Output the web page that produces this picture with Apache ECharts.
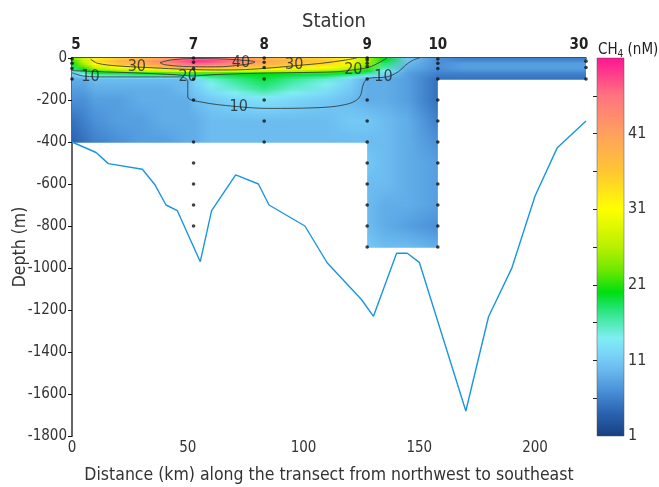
<!DOCTYPE html>
<html><head><meta charset="utf-8">
<script src="https://cdn.jsdelivr.net/npm/echarts@6/dist/echarts.min.js"></script>
<style>html,body{margin:0;padding:0;background:#fff}#c{width:659px;height:487px}</style>
</head><body><div id="c"></div>
<script>
// ---------- data ----------
const stationNames = ['5', '7', '8', '9', '10', '30'];
const stationKm = [0, 52.5, 83, 127.5, 158, 222];
const sampleDepths = [
  [-5, -25, -50, -100],
  [0, -20, -50, -100, -200, -400, -500, -600, -700, -800],
  [0, -20, -45, -100, -200, -300, -400],
  [0, -10, -25, -40, -100, -200, -300, -400, -500, -600, -700, -800, -900],
  [-5, -25, -50, -100, -200, -300, -400, -500, -600, -700, -800, -900],
  [-15, -45, -100]
];
const bathyKm = [0, 10.4, 15.7, 30.4, 35.9, 40.6, 45.5, 55.4, 60.3, 70.7, 80.5, 85.1, 100.6, 110.2, 125, 130.2, 140.2, 144.8, 150, 170.1, 179.9, 189.9, 200, 209.5, 222];
const bathyDepth = [-400, -450, -503, -530, -605, -700, -727, -970, -727, -557, -600, -700, -800, -975, -1150, -1230, -930, -930, -973, -1681, -1232, -1002, -657, -429, -300];

// CH4 field (nM) read at grid nodes
const fieldKm = [0, 5, 10, 20, 30, 40, 50, 53, 60, 70, 83, 95, 110, 120, 127.5, 135, 145, 158, 170, 190, 222];
const fieldDepths = [0, -10, -25, -50, -75, -100, -150, -200, -300, -400, -500, -600, -700, -800, -900];
const N = null;
const ch4_0    = [24, 27, 30, 33, 35, 38, 42, 43, 42, 40, 37, 35, 33, 30, 26, 20, 11, 7, 6, 6, 6];
const ch4_10   = [22, 28, 34, 38, 40, 44, 48, 50, 49, 46, 40, 38, 36, 32, 26, 20, 11, 7, 6, 6, 6];
const ch4_25   = [20, 26, 32, 37, 39, 43, 47, 48, 47, 44, 39, 37, 35, 31, 25, 18, 10, 7, 8, 8, 8];
const ch4_50   = [18, 21, 26, 30, 32, 35, 38, 38, 37, 36, 34, 32, 30, 27, 22, 16, 9, 7, 8, 8, 8];
const ch4_75   = [11, 15, 18, 19, 20, 20, 20, 20, 20, 20, 20, 20, 20, 19, 17, 12, 8, 6, 6, 6, 6];
const ch4_100  = [9, 9, 10, 10, 10, 10, 10, 12, 15, 17, 19, 17, 15, 12, 9, 9, 8, 5, 5, 5, 5];
const ch4_150  = [8, 8, 9, 9, 9, 9, 10, 11, 13, 15, 17, 15, 13, 11, 9, 9, 8, 5, N, N, N];
const ch4_200  = [7, 7, 8, 8, 9, 9, 9, 10, 11, 12, 13, 12, 11, 10, 9, 9, 8, 5, N, N, N];
const ch4_300  = [5, 6, 7, 8, 8, 9, 9, 9, 10, 10, 10, 10, 10, 11, 11, 10, 9, 6, N, N, N];
const ch4_400  = [4, 5, 6, 7, 8, 8, 9, 9, 10, 10, 10, 10, 10, 10, 10, 10, 9, 7, N, N, N];
const ch4_500  = [N, N, N, N, N, N, N, N, N, N, N, N, N, N, 11, 10, 9, 8, N, N, N];
const ch4_600  = [N, N, N, N, N, N, N, N, N, N, N, N, N, N, 10, 10, 9, 8, N, N, N];
const ch4_700  = [N, N, N, N, N, N, N, N, N, N, N, N, N, N, 10, 9, 9, 8, N, N, N];
const ch4_800  = [N, N, N, N, N, N, N, N, N, N, N, N, N, N, 10, 9, 8, 7, N, N, N];
const ch4_900  = [N, N, N, N, N, N, N, N, N, N, N, N, N, N, 11, 10, 10, 9, N, N, N];
const fieldValues = [ch4_0, ch4_10, ch4_25, ch4_50, ch4_75, ch4_100, ch4_150, ch4_200, ch4_300, ch4_400, ch4_500, ch4_600, ch4_700, ch4_800, ch4_900];

// contour lines (km, depth)
const contour10 = [[0, -70], [5, -86], [15, -90], [30, -90], [47, -90], [50, -110], [50, -185], [56, -210], [70, -230], [85, -240], [105, -237], [118, -222], [124, -190], [126, -120], [128, -97], [136, -90], [141, -65], [144, -35], [147, -12], [150, 0]];
const contour20 = [[0, -60], [15, -66], [30, -72], [45, -80], [52, -86], [60, -80], [75, -74], [95, -70], [115, -65], [121, -57], [128, -45], [133, -20], [136, 0]];
const contour30 = [[8, -5], [11, -25], [20, -38], [32, -45], [45, -52], [62, -57], [75, -55], [86, -47], [98, -35], [108, -25], [118, -10], [123, 0]];
const contour40 = [[38, -22], [43, -9], [52, -3], [63, -4], [73, -10], [79, -19], [74, -32], [62, -42], [48, -40], [40, -32], [38, -22]];
const contourLabels = [[8, -92, '10'], [72, -232, '10'], [134.5, -89, '10'], [50, -89, '20'], [121.5, -57, '20'], [28, -41, '30'], [96, -33, '30'], [73, -25, '40']];

// colour scale
const cbVals = [1, 4, 7, 10, 12, 14, 16, 18, 20, 23, 26, 31, 36, 41, 46, 51];
const cbCols = ['#173f80', '#2a62b0', '#4a90d8', '#6cbcf0', '#7ad6f8', '#80eef2', '#50eab4', '#20e470', '#00de10', '#70e800', '#b8f000', '#ffff00', '#ffc632', '#ffa05e', '#ff7480', '#ff1493'];
const cbLabels = [1, 11, 21, 31, 41];
const cbTicks = [6, 11, 16, 21, 26, 31, 36, 41, 46];

// ---------- helpers ----------
function hexToRgb(h) { return [parseInt(h.substr(1, 2), 16), parseInt(h.substr(3, 2), 16), parseInt(h.substr(5, 2), 16)]; }
function lerpHex(a, b, t) {
  const A = hexToRgb(a), B = hexToRgb(b);
  return 'rgb(' + A.map((v, k) => Math.round(v + (B[k] - v) * t)).join(',') + ')';
}
function valColor(v) {
  if (v <= cbVals[0]) return cbCols[0];
  for (let k = 1; k < cbVals.length; k++) {
    if (v <= cbVals[k]) return lerpHex(cbCols[k - 1], cbCols[k], (v - cbVals[k - 1]) / (cbVals[k] - cbVals[k - 1]));
  }
  return cbCols[cbCols.length - 1];
}

const FONT = "'Liberation Sans Narrow','DejaVu Sans Condensed','Liberation Sans',sans-serif";

const dots = [];
stationKm.forEach((x, i) => sampleDepths[i].forEach(d => dots.push([x, d])));

const bands = fieldDepths.slice(0, -1).map((d, i) => [i, d]);

function renderBand(params, api) {
  const i = params.dataIndex;
  const A = fieldValues[i], B = fieldValues[i + 1];
  const cols = [];
  for (let j = 0; j < fieldKm.length; j++) if (A[j] != null && B[j] != null) cols.push(j);
  if (cols.length < 2) return;
  const x0 = fieldKm[cols[0]], x1 = fieldKm[cols[cols.length - 1]];
  const pA = api.coord([x0, fieldDepths[i]]), pB = api.coord([x1, fieldDepths[i + 1]]);
  const h = pB[1] - pA[1];
  const n = Math.max(1, Math.round(h / 2));
  const children = [];
  for (let s = 0; s < n; s++) {
    const t = (s + 0.5) / n;
    const stops = cols.map(j => ({ offset: (fieldKm[j] - x0) / (x1 - x0), color: valColor(A[j] * (1 - t) + B[j] * t) }));
    children.push({
      type: 'rect',
      shape: { x: pA[0], y: pA[1] + h * s / n, width: pB[0] - pA[0], height: h / n + 0.7 },
      style: { fill: new echarts.graphic.LinearGradient(0, 0, 1, 0, stops) }
    });
  }
  return { type: 'group', children };
}

function renderColorbar(params, api) {
  const p0 = api.coord([0, cbVals[0]]), p1 = api.coord([1, cbVals[cbVals.length - 1]]);
  const stops = cbVals.map((v, k) => ({ offset: 1 - (v - cbVals[0]) / (cbVals[cbVals.length - 1] - cbVals[0]), color: cbCols[k] }));
  return {
    type: 'rect',
    shape: { x: p0[0], y: p1[1], width: p1[0] - p0[0], height: p0[1] - p1[1] },
    style: { fill: new echarts.graphic.LinearGradient(0, 0, 0, 1, stops), stroke: '#555', lineWidth: 0.5 }
  };
}

const contourStyle = { color: '#2b3b3b', width: 1, opacity: 0.85 };
function contourSeries(data) {
  return { type: 'line', xAxisIndex: 0, yAxisIndex: 0, data, symbol: 'none', smooth: 0.35, lineStyle: contourStyle, z: 4, silent: true };
}

const chart = echarts.init(document.getElementById('c'), null, { renderer: 'canvas' });
chart.setOption({
  animation: false,
  textStyle: { fontFamily: FONT },
  title: [
    { text: 'Station', left: 329, textAlign: 'center', top: 7, textStyle: { fontFamily: FONT, fontSize: 20, fontWeight: 'normal', color: '#333' } },
    {
      text: '{a|CH}{b|4}{a| (nM)}', left: 593, top: 36,
      textStyle: { fontWeight: 'normal', rich: { a: { fontFamily: FONT, fontSize: 15, fontWeight: 'normal', color: '#222' }, b: { fontFamily: FONT, fontSize: 10, fontWeight: 'normal', color: '#222', padding: [8, 0, 0, 0] } } }
    }
  ],
  grid: [
    { left: 72, top: 58, width: 514, height: 378, outerBoundsMode: 'none', containLabel: false },
    { left: 597, top: 58, width: 27, height: 378, outerBoundsMode: 'none', containLabel: false }
  ],
  xAxis: [
    {
      gridIndex: 0, type: 'value', min: 0, max: 222, position: 'bottom',
      name: 'Distance (km) along the transect from northwest to southeast', nameLocation: 'middle', nameGap: 30,
      nameTextStyle: { fontFamily: FONT, fontSize: 17.5, color: '#333' },
      axisLine: { lineStyle: { color: '#111', width: 1.5 } },
      axisTick: { customValues: [0, 50, 100, 150, 200], length: 4, lineStyle: { color: '#111' } },
      axisLabel: { customValues: [0, 50, 100, 150, 200], fontFamily: FONT, fontSize: 15, color: '#333', margin: 5, formatter: v => String(v) },
      splitLine: { show: false }
    },
    {
      gridIndex: 0, type: 'value', min: 0, max: 222, position: 'top',
      axisLine: { show: true, lineStyle: { color: '#555', width: 1 } },
      axisTick: { show: false },
      axisLabel: {
        customValues: stationKm, margin: 5, fontFamily: FONT, fontSize: 15, fontWeight: 'bold', color: '#222',
        formatter: v => {
          const i = stationKm.indexOf(v);
          const name = i >= 0 ? stationNames[i] : '';
          if (name === '30') return '{r|' + name + '}';
          if (name === '5') return '{l|' + name + '}';
          return name;
        },
        rich: {
          r: { fontFamily: FONT, fontSize: 15, fontWeight: 'bold', color: '#222', padding: [0, 14, 0, 0] },
          l: { fontFamily: FONT, fontSize: 15, fontWeight: 'bold', color: '#222', padding: [0, 0, 0, 8] }
        }
      },
      splitLine: { show: false }
    },
    { gridIndex: 1, type: 'value', min: 0, max: 1, show: false }
  ],
  yAxis: [
    {
      gridIndex: 0, type: 'value', min: -1800, max: 0, interval: 200,
      name: 'Depth (m)', nameLocation: 'middle', nameGap: 43, nameRotate: 90, nameMoveOverlap: false,
      nameTextStyle: { fontFamily: FONT, fontSize: 17.5, color: '#333' },
      axisLine: { show: true, lineStyle: { color: '#111', width: 1.5 } },
      axisTick: { show: true, length: 4, lineStyle: { color: '#111' } },
      axisLabel: { fontFamily: FONT, fontSize: 15, color: '#333', margin: 5, formatter: v => String(v) },
      splitLine: { show: false }
    },
    {
      gridIndex: 0, type: 'value', min: -1800, max: 0, position: 'right',
      axisLine: { show: true, lineStyle: { color: '#666', width: 2 } },
      axisTick: { show: false }, axisLabel: { show: false }, splitLine: { show: false }
    },
    {
      gridIndex: 1, type: 'value', min: 1, max: 51, position: 'right',
      axisLine: { show: false },
      axisTick: { show: true, inside: true, length: 4, customValues: cbTicks, lineStyle: { color: '#222' } },
      axisLabel: { customValues: cbLabels, fontFamily: FONT, fontSize: 16, color: '#333', margin: 4, formatter: v => String(v) },
      splitLine: { show: false }
    },
    {
      gridIndex: 1, type: 'value', min: 1, max: 51, position: 'left',
      axisLine: { show: false },
      axisTick: { show: true, inside: true, length: 4, customValues: cbTicks, lineStyle: { color: '#222' } },
      axisLabel: { show: false }, splitLine: { show: false }
    }
  ],
  series: [
    { type: 'custom', xAxisIndex: 0, yAxisIndex: 0, data: bands, renderItem: renderBand, z: 1, silent: true },
    contourSeries(contour10), contourSeries(contour20), contourSeries(contour30), contourSeries(contour40),
    {
      type: 'scatter', xAxisIndex: 0, yAxisIndex: 0, data: contourLabels, symbolSize: 0, z: 6, silent: true,
      label: { show: true, position: 'inside', formatter: p => p.data[2], fontFamily: FONT, fontSize: 16, color: '#1c2424' }
    },
    {
      type: 'line', xAxisIndex: 0, yAxisIndex: 0, data: bathyKm.map((x, i) => [x, bathyDepth[i]]),
      symbol: 'none', lineStyle: { color: '#1a96e0', width: 1.4 }, z: 5, silent: true
    },
    {
      type: 'scatter', xAxisIndex: 0, yAxisIndex: 0, data: dots, symbolSize: 3.6,
      itemStyle: { color: '#111' }, z: 7, silent: true
    },
    { type: 'custom', xAxisIndex: 2, yAxisIndex: 2, data: [[0, 1]], renderItem: renderColorbar, z: 1, silent: true }
  ]
});
</script>
</body></html>
